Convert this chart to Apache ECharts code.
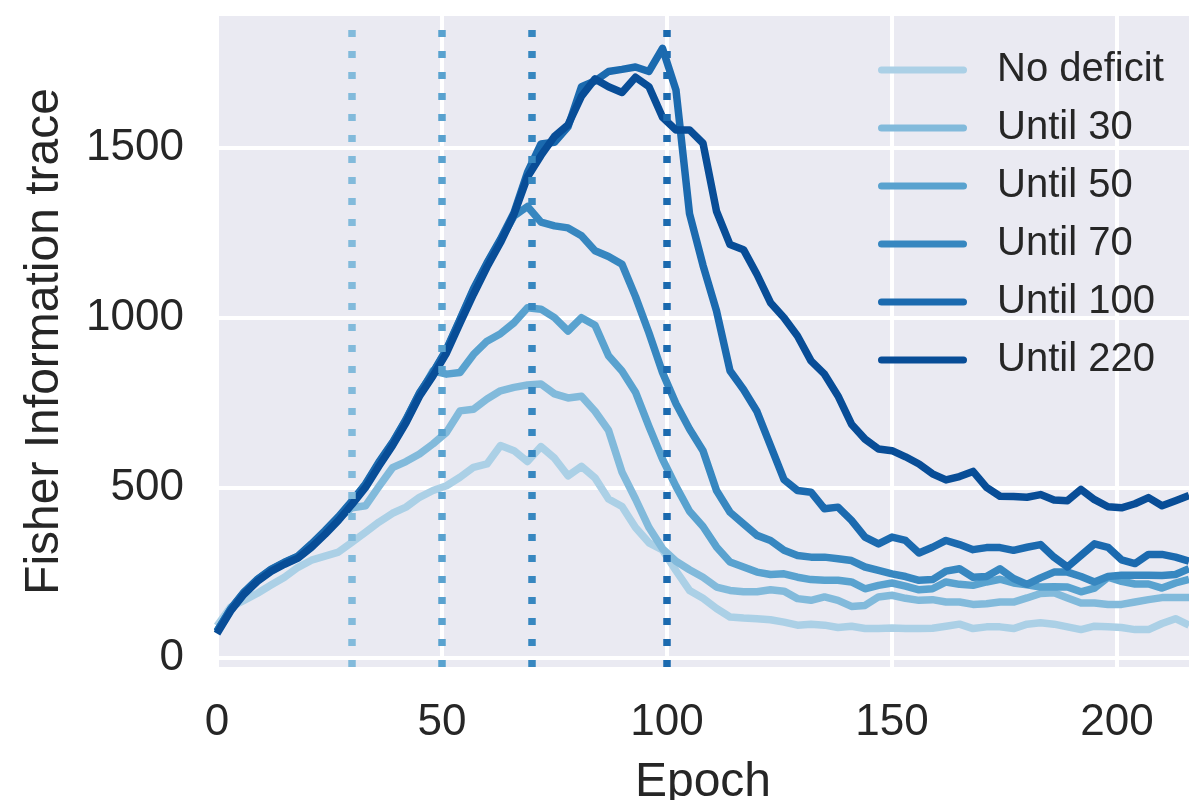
<!DOCTYPE html>
<html>
<head>
<meta charset="utf-8">
<script src="https://cdn.jsdelivr.net/npm/echarts@6/dist/echarts.min.js"></script>
<style>
  html, body { margin: 0; padding: 0; background: #ffffff; }
  #chart { width: 1189px; height: 800px; }
</style>
</head>
<body>
<div id="chart"></div>
<script>
const epochs = [0,3,6,9,12,15,18,21,24,27,30,33,36,39,42,45,48,51,54,57,60,63,66,69,72,75,78,81,84,87,90,93,96,99,102,105,108,111,114,117,120,123,126,129,132,135,138,141,144,147,150,153,156,159,162,165,168,171,174,177,180,183,186,189,192,195,198,201,204,207,210,213,216];

const noDeficit = [95,150,170,191,215,238,267,288,300,312,341,370,400,426,444,473,493,507,532,561,571,625,610,578,622,588,536,564,530,468,446,384,339,318,257,199,176,146,121,118,116,113,106,97,100,97,90,94,87,87,89,87,87,88,94,100,87,92,92,87,100,104,100,92,84,94,92,90,84,84,102,116,97];

const until30 = [79,142,192,230,259,280,298,333,371,412,442,448,505,560,578,600,630,664,727,732,762,786,796,803,806,777,765,770,726,670,547,468,384,322,285,260,238,209,199,195,195,201,197,175,170,180,170,152,155,180,185,176,170,172,165,165,158,160,165,165,177,190,192,177,162,162,158,158,165,172,178,178,178];

const until50 = [77,140,190,228,257,278,296,330,368,409,456,506,570,628,696,774,845,835,840,893,932,954,986,1030,1026,1001,962,1001,979,889,844,782,681,585,505,432,387,327,283,268,253,246,248,238,231,229,229,224,204,214,221,212,201,204,224,217,214,224,232,221,216,209,210,209,195,206,238,226,218,218,206,221,232];

const until70 = [80,143,193,231,260,281,299,334,372,413,460,510,574,632,700,778,838,906,994,1082,1160,1228,1300,1328,1282,1271,1265,1242,1198,1181,1158,1063,956,840,748,674,610,493,429,395,361,346,317,302,297,297,292,287,268,258,248,240,229,231,256,263,238,240,263,234,217,236,253,253,240,224,240,244,244,244,243,246,263];

const until100 = [78,144,194,232,261,282,300,336,375,416,462,512,577,634,702,780,840,908,996,1086,1162,1232,1310,1428,1512,1517,1562,1680,1697,1725,1731,1738,1725,1793,1670,1307,1155,1021,845,790,725,625,525,493,488,439,444,405,356,336,356,346,309,326,346,334,319,325,325,317,326,334,297,268,302,336,326,289,278,305,305,297,285];

const until220 = [72,138,188,226,255,276,294,326,364,405,452,502,565,625,692,770,830,897,985,1070,1150,1222,1305,1415,1478,1534,1568,1652,1703,1680,1663,1708,1680,1590,1553,1553,1514,1314,1216,1201,1128,1045,1001,947,874,835,771,688,644,615,610,592,571,542,524,534,549,502,476,475,473,481,465,463,496,466,445,442,454,472,448,463,478];

const seriesNames = ['No deficit', 'Until 30', 'Until 50', 'Until 70', 'Until 100', 'Until 220'];
const seriesValues = [noDeficit, until30, until50, until70, until100, until220];
const colors = ['#abd0e6', '#82badb', '#59a2cf', '#3787c0', '#1b6aaf', '#084d97'];

const deficitEnds = [30, 50, 70, 100];
const deficitColors = ['#82badb', '#59a2cf', '#3787c0', '#1b6aaf'];

const xTicks = [0, 50, 100, 150, 200];
const yTicks = [0, 500, 1000, 1500];

const textColor = '#262626';
const fontFamily = '"Liberation Sans", Arial, sans-serif';

const series = seriesNames.map((name, i) => ({
  name: name,
  type: 'line',
  data: epochs.map((e, j) => [e, seriesValues[i][j]]),
  symbol: 'none',
  showSymbol: false,
  z: 2 + i * 0.01,
  lineStyle: { color: colors[i], width: 7.5, join: 'round', cap: 'butt' },
  itemStyle: { color: colors[i] },
  emphasis: { disabled: true },
  animation: false
}));

deficitEnds.forEach((ep, i) => {
  series.push({
    name: 'deficit-' + ep,
    type: 'line',
    data: [],
    symbol: 'none',
    z: 5,
    animation: false,
    markLine: {
      silent: true,
      symbol: ['none', 'none'],
      label: { show: false },
      animation: false,
      lineStyle: { color: deficitColors[i], width: 7.5, type: [7, 14], cap: 'butt' },
      emphasis: { disabled: true },
      data: [{ xAxis: ep }]
    }
  });
});

const chart = echarts.init(document.getElementById('chart'), null, { renderer: 'canvas' });
chart.setOption({
  backgroundColor: '#ffffff',
  animation: false,
  textStyle: { fontFamily: fontFamily, color: textColor },
  grid: {
    left: 217, right: 0, top: 16, bottom: 133,
    containLabel: false,
    outerBoundsMode: 'none',
    show: true, backgroundColor: '#EAEAF2', borderWidth: 0
  },
  legend: {
    data: seriesNames.map((n, i) => ({ name: n, itemStyle: { color: colors[i] } })),
    orient: 'vertical',
    left: 878,
    top: 50,
    padding: 0,
    icon: 'path://M3.5,0 L85.5,0 A3.5,3.5 0 0 1 85.5,7 L3.5,7 A3.5,3.5 0 0 1 3.5,0 Z',
    itemWidth: 89,
    itemHeight: 7,
    itemGap: 18,
    textStyle: { fontSize: 40, color: textColor, fontFamily: fontFamily, lineHeight: 40, padding: [0, 0, 0, 25] },
    selectedMode: false
  },
  xAxis: {
    type: 'value',
    min: 0,
    max: 216,
    interval: 50,
    name: 'Epoch',
    nameLocation: 'middle',
    nameGap: 92,
    nameTextStyle: { fontSize: 48, color: textColor, fontFamily: fontFamily },
    axisLine: { show: false },
    axisTick: { show: false, customValues: xTicks },
    axisLabel: { customValues: xTicks, fontSize: 44, color: textColor, margin: 34, fontFamily: fontFamily },
    splitLine: { show: true, lineStyle: { color: '#ffffff', width: 4 } }
  },
  yAxis: {
    type: 'value',
    min: -26,
    max: 1888,
    name: 'Fisher Information trace',
    nameLocation: 'middle',
    nameGap: 148,
    nameTextStyle: { fontSize: 48, color: textColor, fontFamily: fontFamily },
    axisLine: { show: false },
    axisTick: { show: false, customValues: yTicks },
    axisLabel: { customValues: yTicks, fontSize: 44, color: textColor, margin: 33, fontFamily: fontFamily, formatter: (v) => String(v) },
    splitLine: { show: true, lineStyle: { color: '#ffffff', width: 4 } }
  },
  series: series
});
</script>
</body>
</html>
